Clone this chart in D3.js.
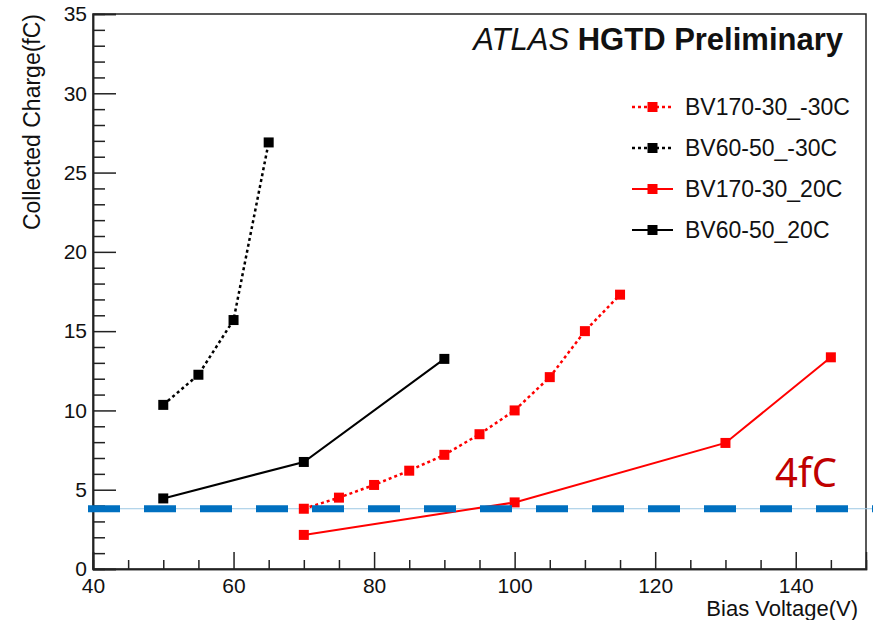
<!DOCTYPE html>
<html>
<head>
<meta charset="utf-8">
<script src="https://cdn.jsdelivr.net/npm/d3@7"></script>
<style>
  body { margin: 0; background: #fff; }
  text { font-family: "Liberation Sans", Arial, sans-serif; fill: #111; }
</style>
</head>
<body>
<svg id="chart" width="873" height="620"></svg>
<script>
// series names, as in the legend (top to bottom)
let seriesNames = ["BV170-30_-30C", "BV60-50_-30C", "BV170-30_20C", "BV60-50_20C"];
let seriesColors = ["#ff0000", "#000000", "#ff0000", "#000000"];
let seriesDotted = [true, true, false, false];

// bias voltage (V) per series
let voltsRedCold = [70, 75, 80, 85, 90, 95, 100, 105, 110, 115];
let voltsBlackCold = [50, 55, 60, 65];
let voltsRedWarm = [70, 100, 130, 145];
let voltsBlackWarm = [50, 70, 90];

// collected charge (fC) per series
let chargeRedCold = [3.8, 4.5, 5.3, 6.2, 7.2, 8.5, 10.0, 12.1, 15.0, 17.3];
let chargeBlackCold = [10.35, 12.25, 15.7, 26.9];
let chargeRedWarm = [2.15, 4.2, 7.95, 13.35];
let chargeBlackWarm = [4.45, 6.75, 13.25];

let seriesVolts = [voltsRedCold, voltsBlackCold, voltsRedWarm, voltsBlackWarm];
let seriesCharge = [chargeRedCold, chargeBlackCold, chargeRedWarm, chargeBlackWarm];

// axis ticks
let xMajorTicks = [40, 60, 80, 100, 120, 140];
let xMinorTicks = [45, 50, 55, 65, 70, 75, 85, 90, 95, 105, 110, 115, 125, 130, 135, 145];
let yMajorTicks = [0, 5, 10, 15, 20, 25, 30, 35];
let yMinorTicks = [1, 2, 3, 4, 6, 7, 8, 9, 11, 12, 13, 14, 16, 17, 18, 19, 21, 22, 23, 24, 26, 27, 28, 29, 31, 32, 33, 34];

// threshold annotation, drawn a little under the 4 fC grid value as in the slide
let thresholdValue = 3.8;
let thresholdLabel = "4fC";

let svg = d3.select("#chart");
let plotLeft = 93, plotRight = 866, plotTop = 14, plotBottom = 569;

let xScale = d3.scaleLinear().domain([40, 150]).range([plotLeft, plotRight]);
let yScale = d3.scaleLinear().domain([0, 35]).range([plotBottom, plotTop]);

// frame
svg.append("rect")
    .attr("x", plotLeft)
    .attr("y", plotTop)
    .attr("width", plotRight - plotLeft)
    .attr("height", plotBottom - plotTop)
    .attr("fill", "none")
    .attr("stroke", "#222")
    .attr("stroke-width", 1.5);

// x axis, ticks pointing inward
svg.append("g")
    .attr("transform", "translate(0," + plotBottom + ")")
    .call(d3.axisBottom(xScale).tickValues(xMajorTicks).tickSize(-17).tickPadding(9).tickFormat(d3.format("d")));
svg.append("g")
    .attr("transform", "translate(0," + plotBottom + ")")
    .call(d3.axisBottom(xScale).tickValues(xMinorTicks).tickSize(-9).tickFormat(""));

// y axis
svg.append("g")
    .attr("transform", "translate(" + plotLeft + ",0)")
    .call(d3.axisLeft(yScale).tickValues(yMajorTicks).tickSize(-23).tickPadding(6).tickFormat(d3.format("d")));
svg.append("g")
    .attr("transform", "translate(" + plotLeft + ",0)")
    .call(d3.axisLeft(yScale).tickValues(yMinorTicks).tickSize(-12).tickFormat(""));

svg.selectAll(".domain").attr("stroke", "#222").attr("stroke-width", 1.5);
svg.selectAll(".tick line").attr("stroke", "#222").attr("stroke-width", 1.5);
svg.selectAll(".tick text")
    .style("font-family", "Liberation Sans, Arial, sans-serif")
    .style("font-size", "21px")
    .attr("fill", "#111");

// axis titles
svg.append("text")
    .attr("transform", "translate(40," + plotTop + ") rotate(-90)")
    .attr("text-anchor", "end")
    .style("font-size", "23px")
    .text("Collected Charge(fC)");

svg.append("text")
    .attr("x", 858)
    .attr("y", 616)
    .attr("text-anchor", "end")
    .style("font-size", "22px")
    .text("Bias Voltage(V)");

// ATLAS label
let atlas = svg.append("text")
    .attr("x", 843)
    .attr("y", 50)
    .attr("text-anchor", "end")
    .style("font-size", "31px");
atlas.append("tspan").style("font-style", "italic").text("ATLAS");
atlas.append("tspan").style("font-weight", "bold").text(" HGTD Preliminary");

// threshold line
let yThr = yScale(thresholdValue);
svg.append("line")
    .attr("x1", 88).attr("x2", 873)
    .attr("y1", yThr).attr("y2", yThr)
    .attr("stroke", "#9dc8e4")
    .attr("stroke-width", 1);

// series
let line = d3.line()
    .x(function(d) { return xScale(d[0]); })
    .y(function(d) { return yScale(d[1]); });

seriesNames.forEach(function(name, i) {
    let pts = d3.zip(seriesVolts[i], seriesCharge[i]);
    svg.append("path")
        .datum(pts)
        .attr("d", line)
        .attr("fill", "none")
        .attr("stroke", seriesColors[i])
        .attr("stroke-width", seriesDotted[i] ? 2.5 : 2)
        .style("stroke-dasharray", seriesDotted[i] ? "3 3" : null);
    svg.selectAll(".pt" + i)
        .data(pts)
        .enter()
        .append("rect")
        .attr("x", function(d) { return xScale(d[0]) - 5; })
        .attr("y", function(d) { return yScale(d[1]) - 5; })
        .attr("width", 10)
        .attr("height", 10)
        .attr("fill", seriesColors[i]);
});

// dashes drawn over the data, like the slide overlay
svg.append("line")
    .attr("x1", 88).attr("x2", 873)
    .attr("y1", yThr).attr("y2", yThr)
    .attr("stroke", "#0070c0")
    .attr("stroke-width", 7)
    .style("stroke-dasharray", "32 24");

svg.append("text")
    .attr("x", 775)
    .attr("y", 487)
    .style("font-family", "Noto Sans, Open Sans, sans-serif")
    .style("font-size", "40px")
    .style("fill", "#c00000")
    .text(thresholdLabel);

// legend
seriesNames.forEach(function(name, i) {
    let ly = 107 + i * 41;
    svg.append("line")
        .attr("x1", 632).attr("x2", 673)
        .attr("y1", ly).attr("y2", ly)
        .attr("stroke", seriesColors[i])
        .attr("stroke-width", seriesDotted[i] ? 2.5 : 2)
        .style("stroke-dasharray", seriesDotted[i] ? "3 3" : null);
    svg.append("rect")
        .attr("x", 647.5).attr("y", ly - 5)
        .attr("width", 10).attr("height", 10)
        .attr("fill", seriesColors[i]);
    svg.append("text")
        .attr("x", 685)
        .attr("y", ly + 8)
        .style("font-size", "23px")
        .text(name);
});
</script>
</body>
</html>
